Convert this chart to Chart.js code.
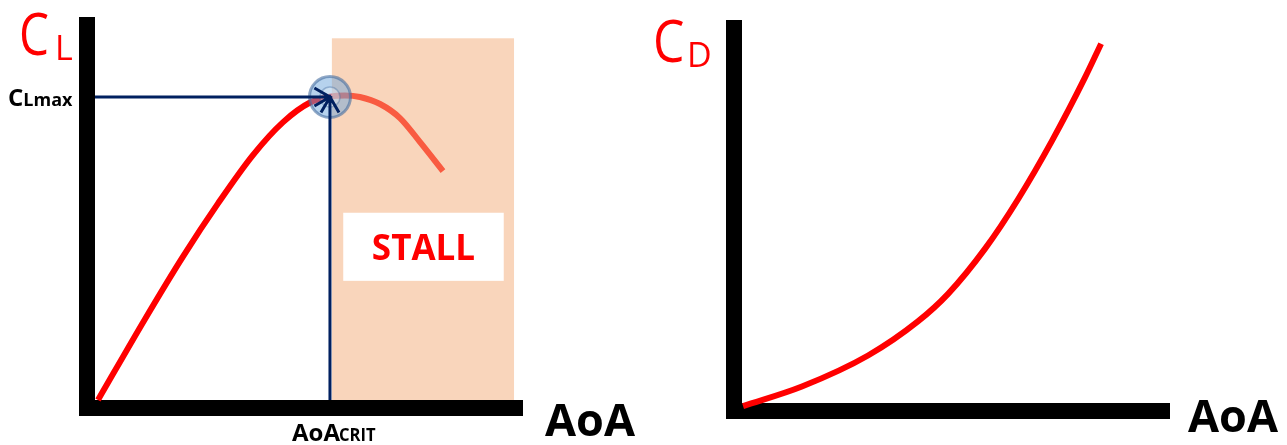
<!DOCTYPE html>
<html><head><meta charset="utf-8">
<script src="https://cdn.jsdelivr.net/npm/chart.js@4/dist/chart.umd.min.js"></script>
<style>
html,body{margin:0;padding:0;background:#fff;overflow:hidden}
#wrap{position:relative;width:1287px;height:445px}
#c1{position:absolute;left:0;top:0}
#c2{position:absolute;left:640px;top:0}
</style></head><body>
<div id="wrap"><canvas id="c1" width="640" height="445"></canvas><canvas id="c2" width="647" height="445"></canvas></div>
<script>
// ---- data (AoA in degrees, coefficients in arbitrary units) ----
const liftAoA = [0.14, 2.34, 4.11, 5.75, 7.38, 8.79, 10.05, 10.98, 11.68, 12.38, 13.32, 14.25, 15.19, 16.26];
const liftCL  = [0.0, 0.381, 0.674, 0.924, 1.151, 1.306, 1.398, 1.426, 1.431, 1.424, 1.391, 1.325, 1.212, 1.076];
const dragAoA = [0.05, 2.80, 5.89, 8.22, 9.63, 11.36, 12.90, 14.49, 16.03, 16.78];
const dragCD  = [-0.008, 0.043, 0.124, 0.213, 0.285, 0.403, 0.532, 0.685, 0.850, 0.938];
const aoaCrit = 10.98;
const clMax = 1.424;
const stallRange = [11.07, 19.58];
const stallTop = 1.70;
const stallBoxAoA = [11.6, 19.1];
const stallBoxCL = [0.56, 0.88];
const leftYLabel = ['C', 'L'];
const rightYLabel = ['C', 'D'];
const xLabel = 'AoA';
const clMaxLabel = ['C', 'Lmax'];
const aoaCritLabel = ['AoA', 'CRIT'];
const stallLabel = 'STALL';

const RED = '#ff0000';
const NAVY = '#002060';
const FONT = '"Open Sans", "Liberation Sans", sans-serif';

function toPts(xs, ys){ return xs.map((x,i)=>({x:x, y:ys[i]})); }

function axisBars(chart){
  const {ctx, chartArea:a} = chart;
  ctx.save();
  ctx.fillStyle = '#000';
  ctx.fillRect(a.left-16, a.top, 16, a.bottom - a.top + 16);
  ctx.fillRect(a.left-16, a.bottom, a.right - a.left + 16, 16);
  ctx.restore();
}

function arrow(ctx, x1, y1, x2, y2){
  const ang = Math.atan2(y2-y1, x2-x1), L = 18, h = Math.PI/6;
  ctx.beginPath();
  ctx.moveTo(x1,y1); ctx.lineTo(x2,y2);
  ctx.moveTo(x2 - L*Math.cos(ang-h), y2 - L*Math.sin(ang-h));
  ctx.lineTo(x2,y2);
  ctx.lineTo(x2 - L*Math.cos(ang+h), y2 - L*Math.sin(ang+h));
  ctx.stroke();
}

function narrowText(ctx, txt, x, y, sx){
  ctx.save();
  ctx.translate(x, y);
  ctx.scale(sx, 1);
  ctx.fillText(txt, 0, 0);
  ctx.restore();
}

const leftPlugin = {
  id:'leftDecor',
  beforeDatasetsDraw(chart){ axisBars(chart); },
  afterDatasetsDraw(chart){
    const {ctx, chartArea:a, scales:{x, y}} = chart;
    ctx.save();
    // stall region overlay
    ctx.fillStyle = 'rgba(243,174,125,0.52)';
    const sx1 = x.getPixelForValue(stallRange[0]), sx2 = x.getPixelForValue(stallRange[1]);
    const sy = y.getPixelForValue(stallTop);
    ctx.fillRect(sx1, sy, sx2-sx1, a.bottom - sy);
    // STALL box
    const bx1 = x.getPixelForValue(stallBoxAoA[0]), bx2 = x.getPixelForValue(stallBoxAoA[1]);
    const by1 = y.getPixelForValue(stallBoxCL[1]), by2 = y.getPixelForValue(stallBoxCL[0]);
    ctx.fillStyle = '#fff';
    ctx.fillRect(bx1, by1, bx2-bx1, by2-by1);
    ctx.fillStyle = RED;
    ctx.font = 'bold 35px ' + FONT;
    ctx.textAlign = 'center'; ctx.textBaseline = 'alphabetic';
    ctx.fillText(stallLabel, (bx1+bx2)/2, (by1+by2)/2 + 13);
    // circle marker at CLmax
    const cx = x.getPixelForValue(aoaCrit), cy = y.getPixelForValue(clMax);
    ctx.beginPath(); ctx.arc(cx, cy, 20.5, 0, Math.PI*2);
    ctx.fillStyle = 'rgba(110,165,220,0.5)'; ctx.fill();
    ctx.lineWidth = 3; ctx.strokeStyle = 'rgba(70,110,160,0.6)'; ctx.stroke();
    ctx.beginPath(); ctx.arc(cx, cy, 10, 0, Math.PI*2);
    ctx.fillStyle = 'rgba(255,255,255,0.3)'; ctx.fill();
    ctx.lineWidth = 1.5; ctx.strokeStyle = 'rgba(70,110,160,0.4)'; ctx.stroke();
    // arrows
    ctx.strokeStyle = NAVY; ctx.lineWidth = 3; ctx.lineCap = 'butt';
    arrow(ctx, a.left, cy, cx, cy);
    arrow(ctx, cx, a.bottom, cx, cy);
    // labels
    ctx.textAlign = 'left';
    ctx.fillStyle = RED;
    ctx.font = '58px ' + FONT;
    narrowText(ctx, leftYLabel[0], a.left - 76, a.top + 38, 0.82);
    ctx.font = '34px ' + FONT;
    ctx.fillText(leftYLabel[1], a.left - 40, a.top + 43);
    ctx.fillStyle = '#000';
    ctx.font = 'bold 24px ' + FONT;
    ctx.fillText(clMaxLabel[0], 8, cy + 9);
    let w = ctx.measureText(clMaxLabel[0]).width;
    ctx.font = 'bold 18px ' + FONT;
    ctx.fillText(clMaxLabel[1], 8 + w, cy + 9);
    ctx.font = 'bold 24px ' + FONT;
    ctx.fillText(aoaCritLabel[0], cx - 38, a.bottom + 41);
    w = ctx.measureText(aoaCritLabel[0]).width;
    ctx.font = 'bold 18px ' + FONT;
    narrowText(ctx, aoaCritLabel[1], cx - 39 + w, a.bottom + 41, 0.92);
    ctx.font = 'bold 45px ' + FONT;
    ctx.fillText(xLabel, a.right + 22, a.bottom + 36);
    ctx.restore();
  }
};

const rightPlugin = {
  id:'rightDecor',
  beforeDatasetsDraw(chart){ axisBars(chart); },
  afterDatasetsDraw(chart){
    const {ctx, chartArea:a} = chart;
    ctx.save();
    ctx.textAlign = 'left'; ctx.textBaseline = 'alphabetic';
    ctx.fillStyle = RED;
    ctx.font = '58px ' + FONT;
    narrowText(ctx, rightYLabel[0], a.left - 89, a.top + 42, 0.86);
    ctx.font = '34px ' + FONT;
    ctx.fillText(rightYLabel[1], a.left - 55, a.top + 47);
    ctx.fillStyle = '#000';
    ctx.font = 'bold 45px ' + FONT;
    ctx.fillText(xLabel, a.right + 18, a.bottom + 29);
    ctx.restore();
  }
};

const common = (ymax, pad) => ({
  responsive:false, animation:false, devicePixelRatio:1,
  layout:{padding:pad},
  plugins:{legend:{display:false}, tooltip:{enabled:false}},
  scales:{
    x:{type:'linear', min:0, max:20, display:false},
    y:{type:'linear', min:0, max:ymax, display:false}
  }
});

new Chart(document.getElementById('c1'), {
  type:'scatter',
  data:{datasets:[{data:toPts(liftAoA, liftCL), showLine:true, borderColor:RED, borderWidth:6,
    pointRadius:0, cubicInterpolationMode:'monotone', clip:false, borderCapStyle:'butt'}]},
  options: common(1.8, {left:95, right:117, top:17, bottom:45}),
  plugins:[leftPlugin]
});

new Chart(document.getElementById('c2'), {
  type:'scatter',
  data:{datasets:[{data:toPts(dragAoA, dragCD), showLine:true, borderColor:RED, borderWidth:6,
    pointRadius:0, cubicInterpolationMode:'monotone', clip:false, borderCapStyle:'butt'}]},
  options: common(1.0, {left:102, right:117, top:20, bottom:42}),
  plugins:[rightPlugin]
});
</script>
</body></html>
